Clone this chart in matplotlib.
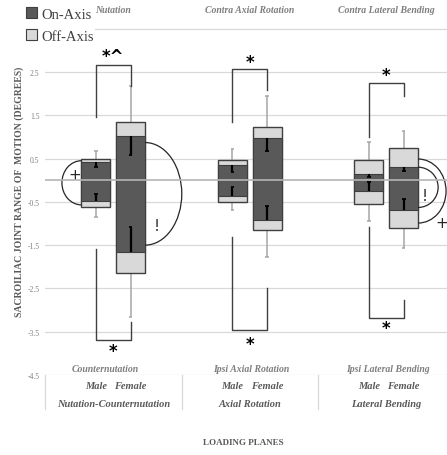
import matplotlib
matplotlib.use("Agg")
import matplotlib.pyplot as plt
from matplotlib.patches import Arc, Patch

plt.rcParams["font.family"] = ["Liberation Serif", "DejaVu Serif"]

# ---- data ----
planes = ["Nutation-Counternutation", "Axial Rotation", "Lateral Bending"]
top_labels = ["Nutation", "Contra Axial Rotation", "Contra Lateral Bending"]
bottom_labels = ["Counternutation", "Ipsi Axial Rotation", "Ipsi Lateral Bending"]
sexes = ["Male", "Female"]

# order: plane0 male, plane0 female, plane1 male, ...
off_high = [0.50, 1.35, 0.47, 1.22, 0.47, 0.75]
off_low = [-0.63, -2.14, -0.50, -1.15, -0.55, -1.10]
on_high = [0.41, 1.01, 0.36, 0.98, 0.14, 0.30]
on_low = [-0.47, -1.65, -0.36, -0.91, -0.24, -0.68]
on_high_sd = [0.30, 0.59, 0.18, 0.67, 0.08, 0.22]
on_low_sd = [-0.32, -1.09, -0.16, -0.59, -0.03, -0.43]
whisk_high = [0.68, 2.17, 0.72, 1.94, 0.89, 1.14]
whisk_low = [-0.84, -3.17, -0.68, -1.77, -0.94, -1.57]

# significance brackets per plane
top_br_y = [2.65, 2.58, 2.25]
top_left_end = [1.47, 1.34, 0.99]
top_right_end = [2.17, 2.09, 1.95]
top_marks = ["*^", "*", "*"]
top_mark_y = [2.86, 2.72, 2.43]
bot_br_y = [-3.68, -3.46, -3.18]
bot_left_end = [-1.59, -1.32, -1.09]
bot_right_end = [-3.28, -2.50, -2.77]
bot_marks = ["*", "*", "*"]
bot_mark_y = [-3.94, -3.78, -3.42]

# arcs: (box index, side, top, bottom, half width in x units, symbol, sym x, sym y)
arcs = [
    (0, "left", 0.45, -0.57, 0.143, "+", -0.285, 0.14),
    (1, "right", 0.87, -1.50, 0.269, "!", 0.318, -1.05),
    (5, "right", 0.49, -0.99, 0.205, "+", 2.405, -0.97),
    (5, "right", 0.30, -0.63, 0.147, "!", 2.282, -0.36),
]

DARK = "#595959"
LIGHT = "#d9d9d9"
EDGE = "#3f3f3f"
WHISK = "#a6a6a6"
GRID = "#d9d9d9"
GRAYTXT = "#7f7f7f"

OFFSET = 0.127
BOX_W = 0.212

fig = plt.figure(figsize=(4.47, 4.56), dpi=100)
ax = fig.add_axes([45 / 447, 1 - 376 / 456, 1 - 45 / 447, 376 / 456])
XMAX = 2.445
ax.set_xlim(-0.5, XMAX)
ax.set_ylim(-4.5, 4.186)
for s in ax.spines.values():
    s.set_visible(False)
ax.set_xticks([])

yt = [2.5, 1.5, 0.5, -0.5, -1.5, -2.5, -3.5, -4.5]
ax.set_yticks(yt)
ax.set_yticklabels([f"{v:g}" for v in yt], fontsize=5.5, color=GRAYTXT)
ax.tick_params(axis="y", length=0, pad=4)

for v in yt:
    ax.axhline(v, color=GRID, lw=0.9, zorder=0)
ax.axhline(3.5, xmin=0.124, color=GRID, lw=0.9, zorder=0)  # top line, legend sits left of it
# zero line drawn over boxes
ax.axhline(0, color="#b5b5b5", lw=1.2, zorder=6)

xs = []
for g in range(len(planes)):
    for k in range(len(sexes)):
        xs.append(g + (-OFFSET if k == 0 else OFFSET))

for i, x in enumerate(xs):
    # whiskers of off-axis range
    ax.vlines(x, off_high[i], whisk_high[i], color=WHISK, lw=1.1, zorder=1)
    ax.vlines(x, whisk_low[i], off_low[i], color=WHISK, lw=1.1, zorder=1)
    ax.hlines([whisk_high[i], whisk_low[i]], x - 0.012, x + 0.012, color=WHISK, lw=1.1, zorder=1)
    ax.bar(x, off_high[i] - off_low[i], bottom=off_low[i], width=BOX_W,
           color=LIGHT, edgecolor=EDGE, lw=1.0, zorder=2)
    ax.bar(x, on_high[i] - on_low[i], bottom=on_low[i], width=BOX_W,
           color=DARK, edgecolor=EDGE, lw=0.8, zorder=3)
    # SD bars of on-axis, pointing inwards
    ax.vlines(x, on_high_sd[i], on_high[i], color="black", lw=1.6, zorder=4)
    ax.vlines(x, on_low[i], on_low_sd[i], color="black", lw=1.6, zorder=4)
    ax.hlines([on_high_sd[i], on_low_sd[i]], x - 0.014, x + 0.014, color="black", lw=1.3, zorder=4)

BR = "#404040"
for g in range(len(planes)):
    xl, xr = xs[2 * g], xs[2 * g + 1]
    ax.plot([xl, xl, xr, xr], [top_left_end[g], top_br_y[g], top_br_y[g], top_right_end[g]],
            color=BR, lw=1.0, zorder=5)
    ax.text((xl + xr) / 2, top_mark_y[g], top_marks[g], ha="center", va="center",
            fontsize=12, fontweight="bold", color="black", family="DejaVu Sans")
    ax.plot([xl, xl, xr, xr], [bot_left_end[g], bot_br_y[g], bot_br_y[g], bot_right_end[g]],
            color=BR, lw=1.0, zorder=5)
    ax.text((xl + xr) / 2, bot_mark_y[g], bot_marks[g], ha="center", va="center",
            fontsize=12, fontweight="bold", color="black", family="DejaVu Sans")

for idx, side, top, bot, hw, sym, sx, sy in arcs:
    edge_x = xs[idx] + (BOX_W / 2 if side == "right" else -BOX_W / 2)
    th1, th2 = (-90, 90) if side == "right" else (90, 270)
    ax.add_patch(Arc((edge_x, (top + bot) / 2), 2 * hw, top - bot, theta1=th1, theta2=th2,
                     color="#262626", lw=0.9, zorder=5))
    ax.text(sx, sy, sym, ha="center", va="center", fontsize=11, color="#262626",
            family="DejaVu Sans")

# category labels
for g in range(len(planes)):
    ax.text(g, 3.95, top_labels[g], ha="center", va="center", fontsize=7,
            style="italic", fontweight="bold", color=GRAYTXT, clip_on=False)
    ax.text(g - 0.06 if g == 0 else g + 0.01, -4.34, bottom_labels[g], ha="center", va="center",
            fontsize=7, style="italic", fontweight="bold", color=GRAYTXT, clip_on=False)
    for k in range(len(sexes)):
        ax.text(xs[2 * g + k], -4.75, sexes[k], ha="center", va="center", fontsize=7.5,
                style="italic", fontweight="bold", color="#595959", clip_on=False)
    ax.text(g, -5.15, planes[g], ha="center", va="center", fontsize=7.5,
            style="italic", fontweight="bold", color="#595959", clip_on=False)
    ax.plot([g - 0.5, g - 0.5], [-4.5, -5.29], color=GRID, lw=0.9, clip_on=False)

ax.text(0.95, -6.05, "LOADING PLANES", ha="center", va="center", fontsize=6.5,
        fontweight="bold", color="#595959", clip_on=False)

fig.text(19 / 447, 1 - 192 / 456, "SACROILIAC JOINT RANGE OF  MOTION (DEGREES)",
         rotation=90, ha="center", va="center", fontsize=7.0, fontweight="bold", color="#595959")

handles = [Patch(facecolor=DARK, edgecolor=EDGE, lw=0.8), Patch(facecolor=LIGHT, edgecolor=EDGE, lw=0.8)]
leg = fig.legend(handles, ["On-Axis", "Off-Axis"], loc="upper left",
                 bbox_to_anchor=(24 / 447, 1 - 6 / 456),
                 frameon=False, fontsize=10.5, handlelength=0.75, handleheight=0.75, handletextpad=0.3,
                 labelspacing=0.6, borderpad=0.15, borderaxespad=0)
for t in leg.get_texts():
    t.set_color("#404040")

fig.savefig("out.png", dpi=100, facecolor="white")
